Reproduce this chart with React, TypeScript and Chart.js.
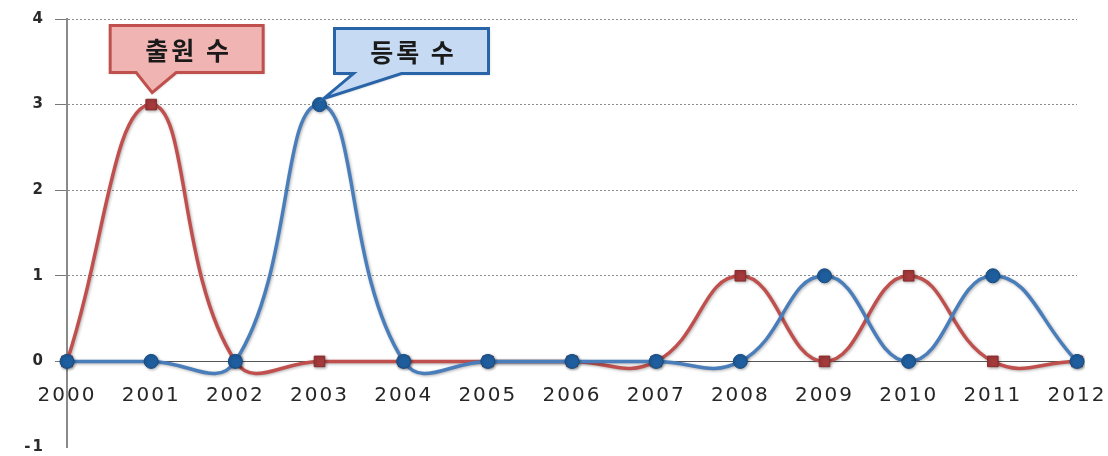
import React, { useEffect, useRef } from "react";
import { Chart, registerables } from "chart.js";

Chart.register(...registerables);

const years = ["2000", "2001", "2002", "2003", "2004", "2005", "2006", "2007", "2008", "2009", "2010", "2011", "2012"];
const applications = [0, 3, 0, 0, 0, 0, 0, 0, 1, 0, 1, 0, 0];
const registrations = [0, 0, 0, 3, 0, 0, 0, 0, 0, 1, 0, 1, 0];
const yTicks = [-1, 0, 1, 2, 3, 4];
const appLabel = "출원 수";
const regLabel = "등록 수";

const calloutPlugin = {
  id: "callouts",
  afterDatasetsDraw(chart: any) {
    const ctx = chart.ctx;
    const xs = chart.scales.x;
    const ys = chart.scales.y;
    const drawCallout = (
      idx: number,
      val: number,
      text: string,
      dx: number,
      dy: number,
      w: number,
      h: number,
      tipStart: number,
      tipEnd: number,
      tipGap: number,
      tipXOff: number,
      fill: string,
      stroke: string
    ) => {
      const px = xs.getPixelForValue(idx);
      const py = ys.getPixelForValue(val);
      const bx = px + dx;
      const by = py + dy;
      ctx.save();
      ctx.beginPath();
      ctx.moveTo(bx, by);
      ctx.lineTo(bx + w, by);
      ctx.lineTo(bx + w, by + h);
      ctx.lineTo(bx + tipEnd, by + h);
      ctx.lineTo(px + tipXOff, py - tipGap);
      ctx.lineTo(bx + tipStart, by + h);
      ctx.lineTo(bx, by + h);
      ctx.closePath();
      ctx.fillStyle = fill;
      ctx.shadowColor = "rgba(0,0,0,0.25)";
      ctx.shadowBlur = 3;
      ctx.shadowOffsetX = 1;
      ctx.shadowOffsetY = 1;
      ctx.fill();
      ctx.shadowColor = "transparent";
      ctx.lineWidth = 3;
      ctx.strokeStyle = stroke;
      ctx.lineJoin = "miter";
      ctx.stroke();
      ctx.fillStyle = "#1a1a1a";
      ctx.font = "bold 25px 'Noto Sans CJK KR'";
      (ctx as any).letterSpacing = "3px";
      ctx.textAlign = "center";
      ctx.textBaseline = "middle";
      ctx.fillText(text, bx + w / 2 + 2, by + h / 2 + 1);
      ctx.restore();
    };
    drawCallout(1, 3, appLabel, -41, -79, 153, 47, 26, 66, 12, 1, "#f0b4b2", "#c0504d");
    drawCallout(3, 3, regLabel, 15, -76, 154, 45, 19, 67, 6, 4, "#c6dbf3", "#2a64a8");
  },
};

const spacingPlugin = {
  id: "spacing",
  beforeUpdate(chart: any) {
    (chart.ctx as any).letterSpacing = "2px";
  },
  beforeDraw(chart: any) {
    const ctx = chart.ctx;
    ctx.save();
    ctx.fillStyle = "#ffffff";
    ctx.fillRect(0, 0, chart.width, chart.height);
    ctx.restore();
  },
  beforeDatasetDraw(chart: any) {
    const ctx = chart.ctx;
    ctx.save();
    ctx.shadowColor = "rgba(0,0,0,0.3)";
    ctx.shadowBlur = 3;
    ctx.shadowOffsetX = 1;
    ctx.shadowOffsetY = 1;
  },
  afterDatasetDraw(chart: any) {
    chart.ctx.restore();
  },
};

export default function App() {
  const ref = useRef<HTMLCanvasElement | null>(null);
  useEffect(() => {
    if (!ref.current) return;
    const chart = new Chart(ref.current, {
      type: "line",
      data: {
        labels: years,
        datasets: [
          {
            label: regLabel,
            data: registrations,
            borderColor: "#4a7ebb",
            borderWidth: 3.5,
            tension: 0.45,
            pointStyle: "circle",
            pointRadius: 7,
            pointBackgroundColor: "#1f5e9e",
            pointBorderColor: "#174d85",
            pointBorderWidth: 1,
            order: 0,
          },
          {
            label: appLabel,
            data: applications,
            borderColor: "#c0504d",
            borderWidth: 3.5,
            tension: 0.45,
            pointStyle: "rect",
            pointRadius: 7.5,
            pointBackgroundColor: "#a53a3c",
            pointBorderColor: "#8a2d2d",
            pointBorderWidth: 1,
            order: 1,
          },
        ],
      },
      options: {
        responsive: false,
        animation: false,
        layout: { padding: { left: 0, right: 31, top: 19, bottom: 9 } },
        plugins: {
          legend: { display: false },
          tooltip: { enabled: false },
        },
        scales: {
          x: {
            position: { y: 0 } as any,
            offset: false,
            grid: { display: false, drawTicks: false },
            border: { display: true, color: "#555555", width: 1 },
            ticks: {
              padding: 22,
              color: "#262626",
              font: { family: "'DejaVu Sans'", size: 20 },
              maxRotation: 0,
              autoSkip: false,
            },
            afterFit(scale: any) {
              scale.paddingLeft = 0;
              scale.paddingRight = 0;
            },
          },
          y: {
            min: -1,
            max: 4,
            afterFit(scale: any) {
              scale.width = 67;
              scale.paddingTop = 0;
              scale.paddingBottom = 0;
            },
            afterBuildTicks(scale: any) {
              scale.ticks = yTicks.map((v) => ({ value: v }));
            },
            grid: {
              color: (c: any) => (c.tick && c.tick.value <= 0 ? "rgba(0,0,0,0)" : "#8c8c8c"),
              lineWidth: 1,
              tickLength: 12,
              tickColor: (c: any) => (c.tick && c.tick.value < 0 ? "rgba(0,0,0,0)" : "#777777"),
              tickBorderDash: [],
            } as any,
            border: { display: true, color: "#8a8a8a", width: 2, dash: [2, 2] } as any,
            ticks: {
              padding: 10,
              color: "#2a2a2a",
              font: { family: "'DejaVu Sans'", size: 15, weight: "bold" },
            },
          },
        },
      },
      plugins: [spacingPlugin, calloutPlugin],
    });
    return () => chart.destroy();
  }, []);
  return (
    <div style={{ position: "fixed", left: 0, top: 0, width: 1108, height: 456, background: "#fff" }}>
      <canvas ref={ref} width={1108} height={456} style={{ width: 1108, height: 456 }} />
    </div>
  );
}
